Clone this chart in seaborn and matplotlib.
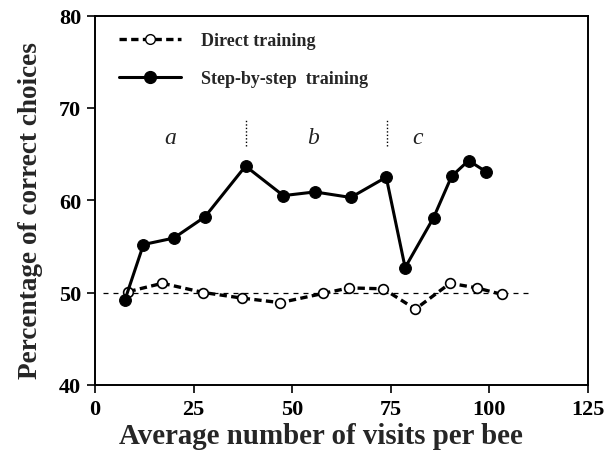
import matplotlib
matplotlib.use('Agg')
import matplotlib.pyplot as plt
from matplotlib.lines import Line2D
import seaborn as sns

# values
direct_x = [8.5, 17.1, 27.5, 37.2, 47.0, 57.9, 64.5, 73.2, 81.3, 90.1, 96.9, 103.2]
direct_y = [50.1, 51.0, 50.0, 49.4, 48.9, 49.9, 50.5, 50.4, 48.2, 51.0, 50.5, 49.8]

step_x = [7.6, 12.3, 20.0, 27.9, 38.2, 47.8, 55.8, 64.9, 73.9, 78.7, 85.9, 90.5, 94.8, 99.2]
step_y = [49.2, 55.2, 55.9, 58.2, 63.7, 60.5, 60.9, 60.3, 62.5, 52.7, 58.1, 62.6, 64.3, 63.1]

chance_level = 50
chance_span = [2, 110]
phase_bounds = [38.2, 74.0]
phase_names = ['a', 'b', 'c']
phase_label_x = [19.0, 55.4, 81.8]

sns.set_style('ticks')
plt.rcParams['font.family'] = ['Liberation Serif', 'DejaVu Serif']
plt.rcParams['font.weight'] = 'bold'

fig = plt.figure(figsize=(6.14, 4.56), dpi=100)
ax = fig.add_axes([0.1547, 0.154, 0.8023, 0.8094])

ax.plot(chance_span, [chance_level, chance_level], color='black', lw=0.9,
        linestyle=(0, (4, 4)), zorder=1)

sns.lineplot(x=direct_x, y=direct_y, ax=ax, color='black', lw=2.4,
             linestyle=(0, (2.2, 1.3)), marker='o', markersize=7,
             markerfacecolor='white', markeredgecolor='black', markeredgewidth=1.2,
             zorder=3)
sns.lineplot(x=step_x, y=step_y, ax=ax, color='black', lw=2.2,
             marker='o', markersize=8.5, markerfacecolor='black',
             markeredgecolor='black', zorder=4)

for b in phase_bounds:
    ax.plot([b, b], [65.9, 68.8], color='black', lw=1.0, linestyle=(0, (1, 1.5)))
for name, px in zip(phase_names, phase_label_x):
    ax.text(px, 66.8, name, fontsize=17, fontstyle='italic', fontweight='normal',
            ha='center', va='center', color='#222222')

ax.set_xlim(0, 125)
ax.set_ylim(40, 80)
ax.set_xticks([0, 25, 50, 75, 100, 125])
ax.set_yticks([40, 50, 60, 70, 80])
ax.tick_params(axis='both', labelsize=16, length=6, width=1.2, direction='out',
               colors='black', pad=4)
for s in ax.spines.values():
    s.set_linewidth(1.4)
    s.set_color('black')

ax.set_xlabel('Average number of visits per bee', fontsize=20.8, fontweight='bold')
ax.set_ylabel('Percentage of correct choices', fontsize=19.6, fontweight='bold')
ax.xaxis.set_label_coords(0.459, -0.1)
ax.yaxis.set_label_coords(-0.105, 0.475)

handles = [
    Line2D([], [], color='black', lw=2.4, linestyle=(0, (2.2, 1.3)), marker='o',
           markersize=7, markerfacecolor='white', markeredgecolor='black'),
    Line2D([], [], color='black', lw=2.2, marker='o', markersize=8.5,
           markerfacecolor='black'),
]
ax.legend(handles, ['Direct training', 'Step-by-step  training'], loc='upper left',
          frameon=False, fontsize=13, handlelength=3.4, handletextpad=1.1,
          labelspacing=1.15, borderaxespad=0.0, bbox_to_anchor=(0.035, 0.975))

fig.savefig('out.png', dpi=100)
